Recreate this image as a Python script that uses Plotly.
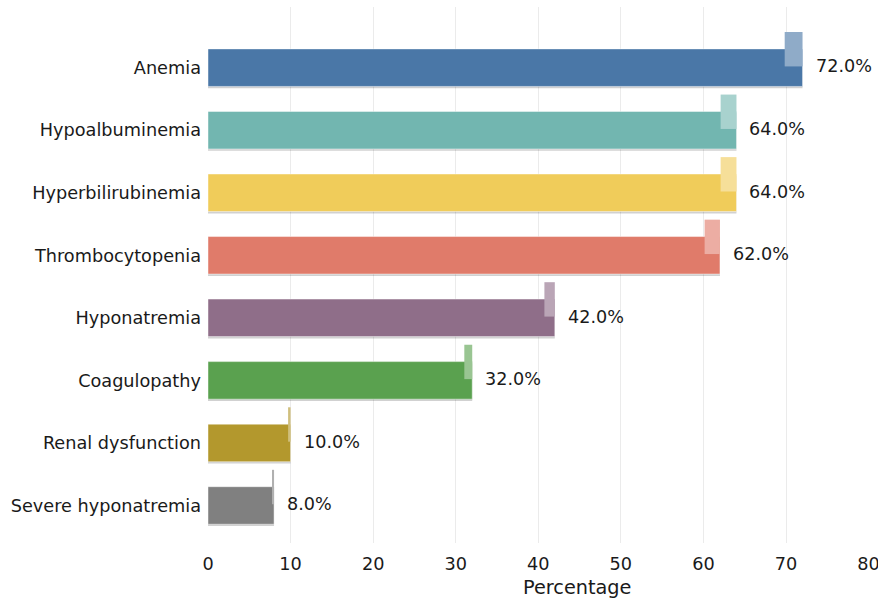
import plotly.graph_objects as go

categories = ["Severe hyponatremia", "Renal dysfunction", "Coagulopathy", "Hyponatremia",
              "Thrombocytopenia", "Hyperbilirubinemia", "Hypoalbuminemia", "Anemia"]
values = [8.0, 10.0, 32.0, 42.0, 62.0, 64.0, 64.0, 72.0]
colors = ["#808080", "#b3982d", "#5aa14f", "#8f6e89", "#e07b6a", "#f0cc5a", "#72b6b0", "#4a77a7"]
x_ticks = [0, 10, 20, 30, 40, 50, 60, 70, 80]
x_title = "Percentage"


def lighten(hex_color, a=0.62):
    h = hex_color.lstrip("#")
    r, g, b = (int(h[i:i + 2], 16) for i in (0, 2, 4))
    r, g, b = (round(a * c + (1 - a) * 255) for c in (r, g, b))
    return f"rgb({r},{g},{b})"


pos = list(range(len(categories)))
FONT = "DejaVu Sans"

fig = go.Figure()
# shadow
fig.add_trace(go.Bar(y=pos, x=values, orientation="h", width=0.6, offset=-0.33,
                     marker=dict(color="rgba(0,0,0,0.18)", line=dict(width=0)),
                     hoverinfo="skip", showlegend=False))
# main bars
fig.add_trace(go.Bar(y=pos, x=values, orientation="h", width=0.6, offset=-0.3,
                     marker=dict(color=colors, line=dict(width=1, color="rgba(255,255,255,0.45)")),
                     showlegend=False))
# highlight caps
fig.add_trace(go.Bar(y=pos, x=[v * 0.03 for v in values], base=[v * 0.97 for v in values],
                     orientation="h", width=0.55, offset=0.02,
                     marker=dict(color=[lighten(c) for c in colors], line=dict(width=0)),
                     hoverinfo="skip", showlegend=False))

for p, v in zip(pos, values):
    fig.add_annotation(x=v, y=p + 0.02, text=f"{v:.1f}%", showarrow=False,
                       xanchor="left", yanchor="middle", xshift=11,
                       font=dict(family=FONT, size=17.6, color="#1a1a1a"))

# x-axis title (offset to the right as in the reference)
fig.add_annotation(xref="paper", yref="paper", x=0.558, y=0, text=x_title, showarrow=False,
                   xanchor="center", yanchor="middle", yshift=-44,
                   font=dict(family=FONT, size=19.3, color="#1a1a1a"))

fig.update_layout(
    width=878, height=599,
    margin=dict(l=208, r=9, t=7, b=56, autoexpand=False),
    paper_bgcolor="white", plot_bgcolor="white",
    barmode="overlay",
    font=dict(family=FONT, size=17.7, color="#1a1a1a"),
)
fig.update_xaxes(range=[0, 80.05], tickvals=x_ticks, ticktext=[str(t) for t in x_ticks],
                 showgrid=True, gridcolor="#ebebeb", gridwidth=1, zeroline=False,
                 showline=False, ticks="", tickfont=dict(size=17.7), automargin=False,
                 ticklabeloverflow="allow", ticklabelstandoff=8)
fig.update_yaxes(range=[-0.6, 7.97], tickvals=pos, ticktext=categories,
                 showgrid=False, zeroline=False, showline=False, ticks="", automargin=False,
                 tickfont=dict(size=17.7), ticklabelstandoff=6)

fig.write_html("out.html")
